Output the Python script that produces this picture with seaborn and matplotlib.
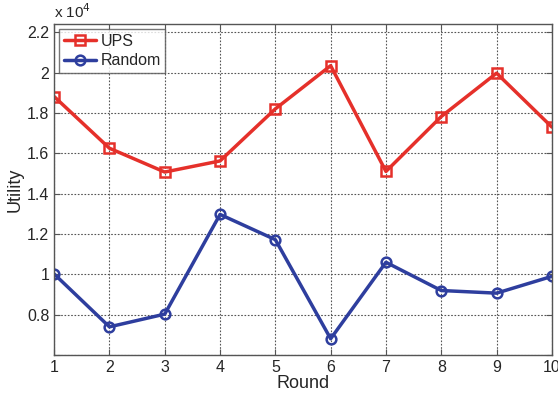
import matplotlib
matplotlib.use("Agg")
import matplotlib.pyplot as plt
import seaborn as sns
import pandas as pd
from matplotlib.ticker import FuncFormatter, MultipleLocator

# values (utility, raw units)
rounds = [1, 2, 3, 4, 5, 6, 7, 8, 9, 10]
ups = [18810, 16250, 15070, 15620, 18200, 20340, 15100, 17820, 19970, 17300]
random_sel = [10020, 7400, 8030, 12970, 11720, 6810, 10600, 9200, 9070, 9900]

df = pd.DataFrame({"Round": rounds * 2,
                   "Utility": ups + random_sel,
                   "Method": ["UPS"] * len(rounds) + ["Random"] * len(rounds)})

sns.set_style("ticks")
plt.rcParams['font.family'] = ['Liberation Sans', 'DejaVu Sans']

fig = plt.figure(figsize=(5.58, 3.95), dpi=100)
ax = fig.add_axes([0.097, 0.101, 0.892, 0.838])

colors = {"UPS": "#E5302A", "Random": "#2E3E9E"}
markers = {"UPS": "s", "Random": "o"}
for name in ["UPS", "Random"]:
    sub = df[df["Method"] == name]
    sns.lineplot(data=sub, x="Round", y="Utility", ax=ax, color=colors[name],
                 marker=markers[name], markersize=7, markerfacecolor="none",
                 markeredgecolor=colors[name], markeredgewidth=1.8,
                 linewidth=2.5, label=name)

ax.set_xlim(1, 10)
ax.set_ylim(6000, 22400)
ax.xaxis.set_major_locator(MultipleLocator(1))
ax.yaxis.set_major_locator(MultipleLocator(2000))
ax.yaxis.set_major_formatter(FuncFormatter(lambda v, p: f"{v / 1e4:g}" if v >= 7000 else ""))

ax.grid(True, linestyle=(0, (1.5, 1.5)), color="#555555", linewidth=0.8)
ax.tick_params(direction="in", top=True, right=True, labelsize=11.5, length=4,
               color="#555555")
for s in ax.spines.values():
    s.set_color("#555555")
    s.set_linewidth(1)

ax.set_xlabel("Round", fontsize=13, labelpad=0)
ax.set_ylabel("Utility", fontsize=13, labelpad=2)
ax.text(0.0, 1.01, r"x 10$^4$", transform=ax.transAxes, fontsize=11,
        ha="left", va="bottom")

leg = ax.legend(loc="upper left", fontsize=11.5, frameon=True, fancybox=False,
                borderaxespad=0.3, handlelength=2.0, borderpad=0.3,
                labelspacing=0.3, handletextpad=0.3)
leg.get_frame().set_edgecolor("#555555")
leg.get_frame().set_linewidth(1)

fig.savefig("out.png", dpi=100)
